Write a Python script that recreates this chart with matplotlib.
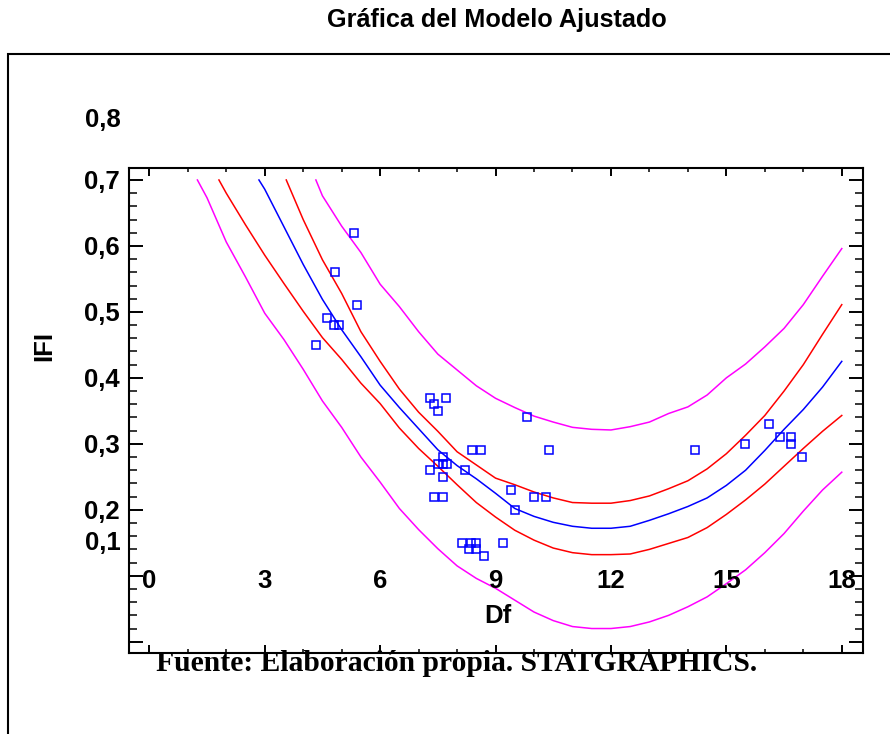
import matplotlib
matplotlib.use("Agg")
import matplotlib.pyplot as plt
from matplotlib.patches import Rectangle
from matplotlib.ticker import FixedLocator, MultipleLocator
from matplotlib.transforms import blended_transform_factory

# ---------------------------------------------------------------
# Observed data: Df vs IFI
# ---------------------------------------------------------------
obs_df = [5.32, 4.83, 5.41, 4.61, 4.81, 4.93, 4.33,
          7.30, 7.41, 7.50, 7.70, 7.63, 7.50, 7.63, 7.73, 7.30, 7.63, 7.41, 7.63,
          8.21, 8.40, 8.61, 9.81, 10.39, 9.39, 9.51, 10.01, 10.30,
          8.12, 8.37, 8.49, 8.32, 8.49, 8.70, 9.19,
          14.18, 15.48, 16.11, 16.39, 16.68, 16.68, 16.97]
obs_ifi = [0.62, 0.56, 0.51, 0.49, 0.48, 0.48, 0.45,
           0.37, 0.36, 0.35, 0.37, 0.28, 0.27, 0.27, 0.27, 0.26, 0.25, 0.22, 0.22,
           0.26, 0.29, 0.29, 0.34, 0.29, 0.23, 0.20, 0.22, 0.22,
           0.15, 0.15, 0.15, 0.14, 0.14, 0.13, 0.15,
           0.29, 0.30, 0.33, 0.31, 0.31, 0.30, 0.28]

# Fitted model
fit_df = [2.85, 3, 3.5, 4, 4.5, 5, 5.5, 6, 6.5, 7, 7.5, 8, 8.5, 9, 9.5, 10,
          10.5, 11, 11.5, 12, 12.5, 13, 13.5, 14, 14.5, 15, 15.5, 16, 16.5,
          17, 17.5, 18]
fit_ifi = [0.700, 0.686, 0.629, 0.572, 0.519, 0.473, 0.432, 0.389, 0.355,
           0.323, 0.291, 0.267, 0.247, 0.225, 0.202, 0.190, 0.181, 0.175,
           0.172, 0.172, 0.175, 0.184, 0.194, 0.205, 0.218, 0.237, 0.260,
           0.290, 0.322, 0.352, 0.386, 0.425]

# Confidence limits for the mean
conf_up_df = [3.56, 4, 4.5, 5, 5.5, 6, 6.5, 7, 7.5, 8, 8.5, 9, 9.5, 10, 10.5,
              11, 11.5, 12, 12.5, 13, 13.5, 14, 14.5, 15, 15.5, 16, 16.5, 17,
              17.5, 18]
conf_up_ifi = [0.700, 0.640, 0.579, 0.528, 0.470, 0.425, 0.383, 0.348, 0.319,
               0.288, 0.268, 0.248, 0.238, 0.227, 0.218, 0.211, 0.210, 0.210,
               0.214, 0.221, 0.232, 0.244, 0.262, 0.285, 0.313, 0.343, 0.380,
               0.420, 0.466, 0.511]
conf_lo_df = [1.81, 2, 2.5, 3, 3.5, 4, 4.5, 5, 5.5, 6, 6.5, 7, 7.5, 8, 8.5, 9,
              9.5, 10, 10.5, 11, 11.5, 12, 12.5, 13, 13.5, 14, 14.5, 15, 15.5,
              16, 16.5, 17, 17.5, 18]
conf_lo_ifi = [0.700, 0.680, 0.632, 0.586, 0.543, 0.501, 0.461, 0.428, 0.392,
               0.361, 0.324, 0.293, 0.266, 0.238, 0.211, 0.189, 0.169, 0.154,
               0.142, 0.135, 0.132, 0.132, 0.133, 0.140, 0.149, 0.158, 0.173,
               0.193, 0.215, 0.239, 0.266, 0.293, 0.319, 0.343]

# Prediction limits
pred_up_df = [4.33, 4.5, 5, 5.5, 6, 6.5, 7, 7.5, 8, 8.5, 9, 9.5, 10, 10.5, 11,
              11.5, 12, 12.5, 13, 13.5, 14, 14.5, 15, 15.5, 16, 16.5, 17,
              17.5, 18]
pred_up_ifi = [0.700, 0.676, 0.630, 0.590, 0.542, 0.508, 0.470, 0.436, 0.412,
               0.388, 0.369, 0.355, 0.342, 0.333, 0.325, 0.322, 0.321, 0.326,
               0.333, 0.346, 0.356, 0.374, 0.400, 0.421, 0.447, 0.475, 0.511,
               0.554, 0.596]
pred_lo_df = [1.25, 1.5, 2, 2.5, 3, 3.5, 4, 4.5, 5, 5.5, 6, 6.5, 7, 7.5, 8,
              8.5, 9, 9.5, 10, 10.5, 11, 11.5, 12, 12.5, 13, 13.5, 14, 14.5,
              15, 15.5, 16, 16.5, 17, 17.5, 18]
pred_lo_ifi = [0.700, 0.673, 0.606, 0.553, 0.498, 0.458, 0.413, 0.365, 0.325,
               0.280, 0.242, 0.202, 0.170, 0.141, 0.115, 0.096, 0.081, 0.063,
               0.045, 0.032, 0.023, 0.020, 0.020, 0.023, 0.030, 0.040, 0.053,
               0.068, 0.088, 0.109, 0.135, 0.164, 0.198, 0.230, 0.257]

# Axis ticks and labels
x_ticks = [0, 3, 6, 9, 12, 15, 18]
x_tick_labels = ["0", "3", "6", "9", "12", "15", "18"]
y_ticks = [0.0, 0.1, 0.2, 0.3, 0.4, 0.5, 0.6, 0.7]
y_tick_labels = ["", "", "0,2", "0,3", "0,4", "0,5", "0,6", "0,7"]
extra_y_labels = ["0,8", "0,1"]

title = "Gráfica del Modelo Ajustado"
x_label = "Df"
y_label = "IFI"
source_note = "Fuente: Elaboración propia. STATGRAPHICS."

# ---------------------------------------------------------------
W, H = 890, 734
fig = plt.figure(figsize=(W / 100, H / 100), dpi=100)
fig.patch.set_facecolor("white")


def fx(px):
    return px / W


def fy(py):
    return 1 - py / H


SANS = "Liberation Sans"
SERIF = "Liberation Serif"
FS = 18.5

ax_l, ax_r, ax_t, ax_b = 129, 862.7, 167.7, 653
ax = fig.add_axes([fx(ax_l), fy(ax_b), fx(ax_r) - fx(ax_l), fy(ax_t) - fy(ax_b)])
ax.set_xlim(-0.528, 18.544)
ax.set_ylim(-0.0171, 0.7186)

lw = 1.1
ax.plot(pred_lo_df, pred_lo_ifi, color="#FF00FF", lw=lw, zorder=2)
ax.plot(pred_up_df, pred_up_ifi, color="#FF00FF", lw=lw, zorder=2)
ax.plot(conf_lo_df, conf_lo_ifi, color="#FF0000", lw=lw, zorder=2)
ax.plot(conf_up_df, conf_up_ifi, color="#FF0000", lw=lw, zorder=2)
ax.plot(fit_df, fit_ifi, color="#0000FF", lw=lw, zorder=3)
ax.plot(obs_df, obs_ifi, linestyle="none", marker="s", markersize=5.2,
        markerfacecolor="none", markeredgecolor="#0000FF", markeredgewidth=1.1,
        zorder=4)

for sp in ax.spines.values():
    sp.set_linewidth(1.5)
    sp.set_color("black")

ax.xaxis.set_major_locator(FixedLocator(x_ticks))
ax.xaxis.set_minor_locator(MultipleLocator(1))
ax.yaxis.set_major_locator(FixedLocator(y_ticks))
ax.yaxis.set_minor_locator(MultipleLocator(0.02))
ax.set_yticklabels(y_tick_labels)
ax.tick_params(axis="both", which="both", direction="in", top=True, right=True,
               labelbottom=False, labeltop=False, labelright=False)
ax.tick_params(axis="x", which="major", length=5.5, width=1.4)
ax.tick_params(axis="x", which="minor", length=3, width=1.1)
ax.tick_params(axis="y", which="major", length=10, width=1.4, pad=6.5)
ax.tick_params(axis="y", which="minor", length=5.8, width=1.1)
for lab in ax.get_yticklabels():
    lab.set_fontfamily(SANS)
    lab.set_fontweight("bold")
    lab.set_fontsize(FS)

# x tick labels sit inside the plotting area
bt = blended_transform_factory(ax.transData, ax.transAxes)
x_lab_base = (ax_b - 588.3) / (ax_b - ax_t)
for xv, txt in zip(x_ticks, x_tick_labels):
    ax.text(xv, x_lab_base, txt, transform=bt, ha="center", va="baseline",
            fontsize=FS, fontweight="bold", family=SANS, zorder=5)

# additional y-axis labels placed outside the regular tick positions
fig.text(fx(120.5), fy(127.3), extra_y_labels[0], ha="right", va="baseline",
         fontsize=FS, fontweight="bold", family=SANS)
fig.text(fx(120.5), fy(550), extra_y_labels[1], ha="right", va="baseline",
         fontsize=FS, fontweight="bold", family=SANS)

# axis titles
fig.text(fx(498), fy(623), x_label, ha="center", va="baseline",
         fontsize=FS, fontweight="bold", family=SANS)
fig.text(fx(44), fy(346), y_label, ha="center", va="center", rotation=90,
         fontsize=FS, fontweight="bold", family=SANS)

# chart title
fig.text(fx(497), fy(27.5), title, ha="center", va="baseline",
         fontsize=18.2, fontweight="bold", family=SANS)

# source note
fig.text(fx(156), fy(670.7), source_note, ha="left", va="baseline",
         fontsize=21.3, fontweight="bold", family=SERIF, zorder=10)

# outer frame around the chart panel
fig.add_artist(Rectangle((fx(8.3), -0.2), 1.5, fy(53.7) + 0.2,
                         transform=fig.transFigure, fill=False,
                         edgecolor="black", linewidth=1.5))

fig.savefig("out.png", dpi=100)
